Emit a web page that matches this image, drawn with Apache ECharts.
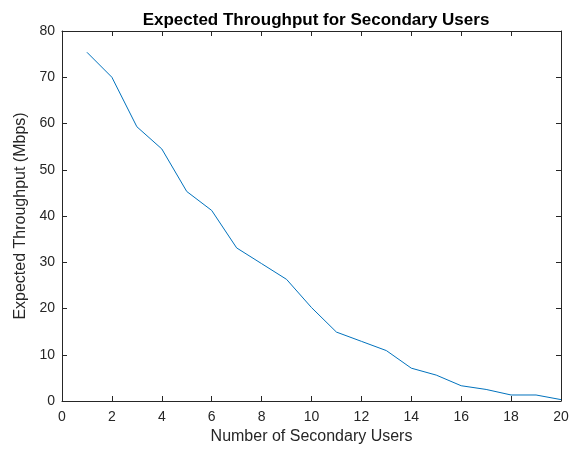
<!DOCTYPE html>
<html><head><meta charset="utf-8">
<script src="https://cdn.jsdelivr.net/npm/echarts@6/dist/echarts.min.js"></script>
<style>html,body{margin:0;padding:0;background:#fff}#c{width:574px;height:450px}</style>
</head><body><div id="c"></div>
<script>
var users = [1,2,3,4,5,6,7,8,9,10,11,12,13,14,15,16,17,18,19,20];
var throughput = [75.4,70.0,59.3,54.5,45.3,41.2,33.1,29.7,26.3,20.2,14.9,12.9,10.9,7.1,5.6,3.3,2.5,1.3,1.3,0.3];
var xTicks = [0,2,4,6,8,10,12,14,16,18,20];
var yTicks = [0,10,20,30,40,50,60,70,80];

var font = 'Liberation Sans, Arial, sans-serif';
var axisCol = '#262626';
var chart = echarts.init(document.getElementById('c'), null, {renderer:'canvas'});
var baseAxisLine = {show:true, onZero:false, lineStyle:{color:axisCol, width:1}};
chart.setOption({
  animation:false,
  backgroundColor:'#fff',
  title:{text:'Expected Throughput for Secondary Users', left:311, top:7, textAlign:'center',
    textStyle:{fontFamily:font, fontSize:17, fontWeight:'bold', color:'#000'}},
  grid:{left:62, right:13, top:31, bottom:48, containLabel:false},
  xAxis:[{
    type:'value', min:xTicks[0], max:xTicks[xTicks.length-1], interval:2,
    name:'Number of Secondary Users', nameLocation:'middle', nameGap:28,
    nameTextStyle:{fontFamily:font, fontSize:16, color:axisCol},
    axisLine:baseAxisLine, axisTick:{show:true, inside:true, length:5, lineStyle:{color:axisCol}},
    axisLabel:{fontFamily:font, fontSize:14, color:axisCol, margin:9},
    splitLine:{show:false}
  },{
    type:'value', position:'top', min:xTicks[0], max:xTicks[xTicks.length-1], interval:2,
    axisLine:baseAxisLine, axisTick:{show:true, inside:true, length:5, lineStyle:{color:axisCol}},
    axisLabel:{show:false}, splitLine:{show:false}
  }],
  yAxis:[{
    type:'value', min:yTicks[0], max:yTicks[yTicks.length-1], interval:10,
    name:'Expected Throughput (Mbps)', nameLocation:'middle', nameGap:33, nameRotate:90,
    nameTextStyle:{fontFamily:font, fontSize:16, color:axisCol},
    axisLine:baseAxisLine, axisTick:{show:true, inside:true, length:5, lineStyle:{color:axisCol}},
    axisLabel:{fontFamily:font, fontSize:14, color:axisCol, margin:7},
    splitLine:{show:false}
  },{
    type:'value', position:'right', min:yTicks[0], max:yTicks[yTicks.length-1], interval:10,
    axisLine:baseAxisLine, axisTick:{show:true, inside:true, length:5, lineStyle:{color:axisCol}},
    axisLabel:{show:false}, splitLine:{show:false}
  }],
  series:[{
    type:'line', xAxisIndex:0, yAxisIndex:0,
    data: users.map(function(u,i){return [u, throughput[i]];}),
    symbol:'none', lineStyle:{color:'#0072BD', width:1}
  }]
});
</script></body></html>
